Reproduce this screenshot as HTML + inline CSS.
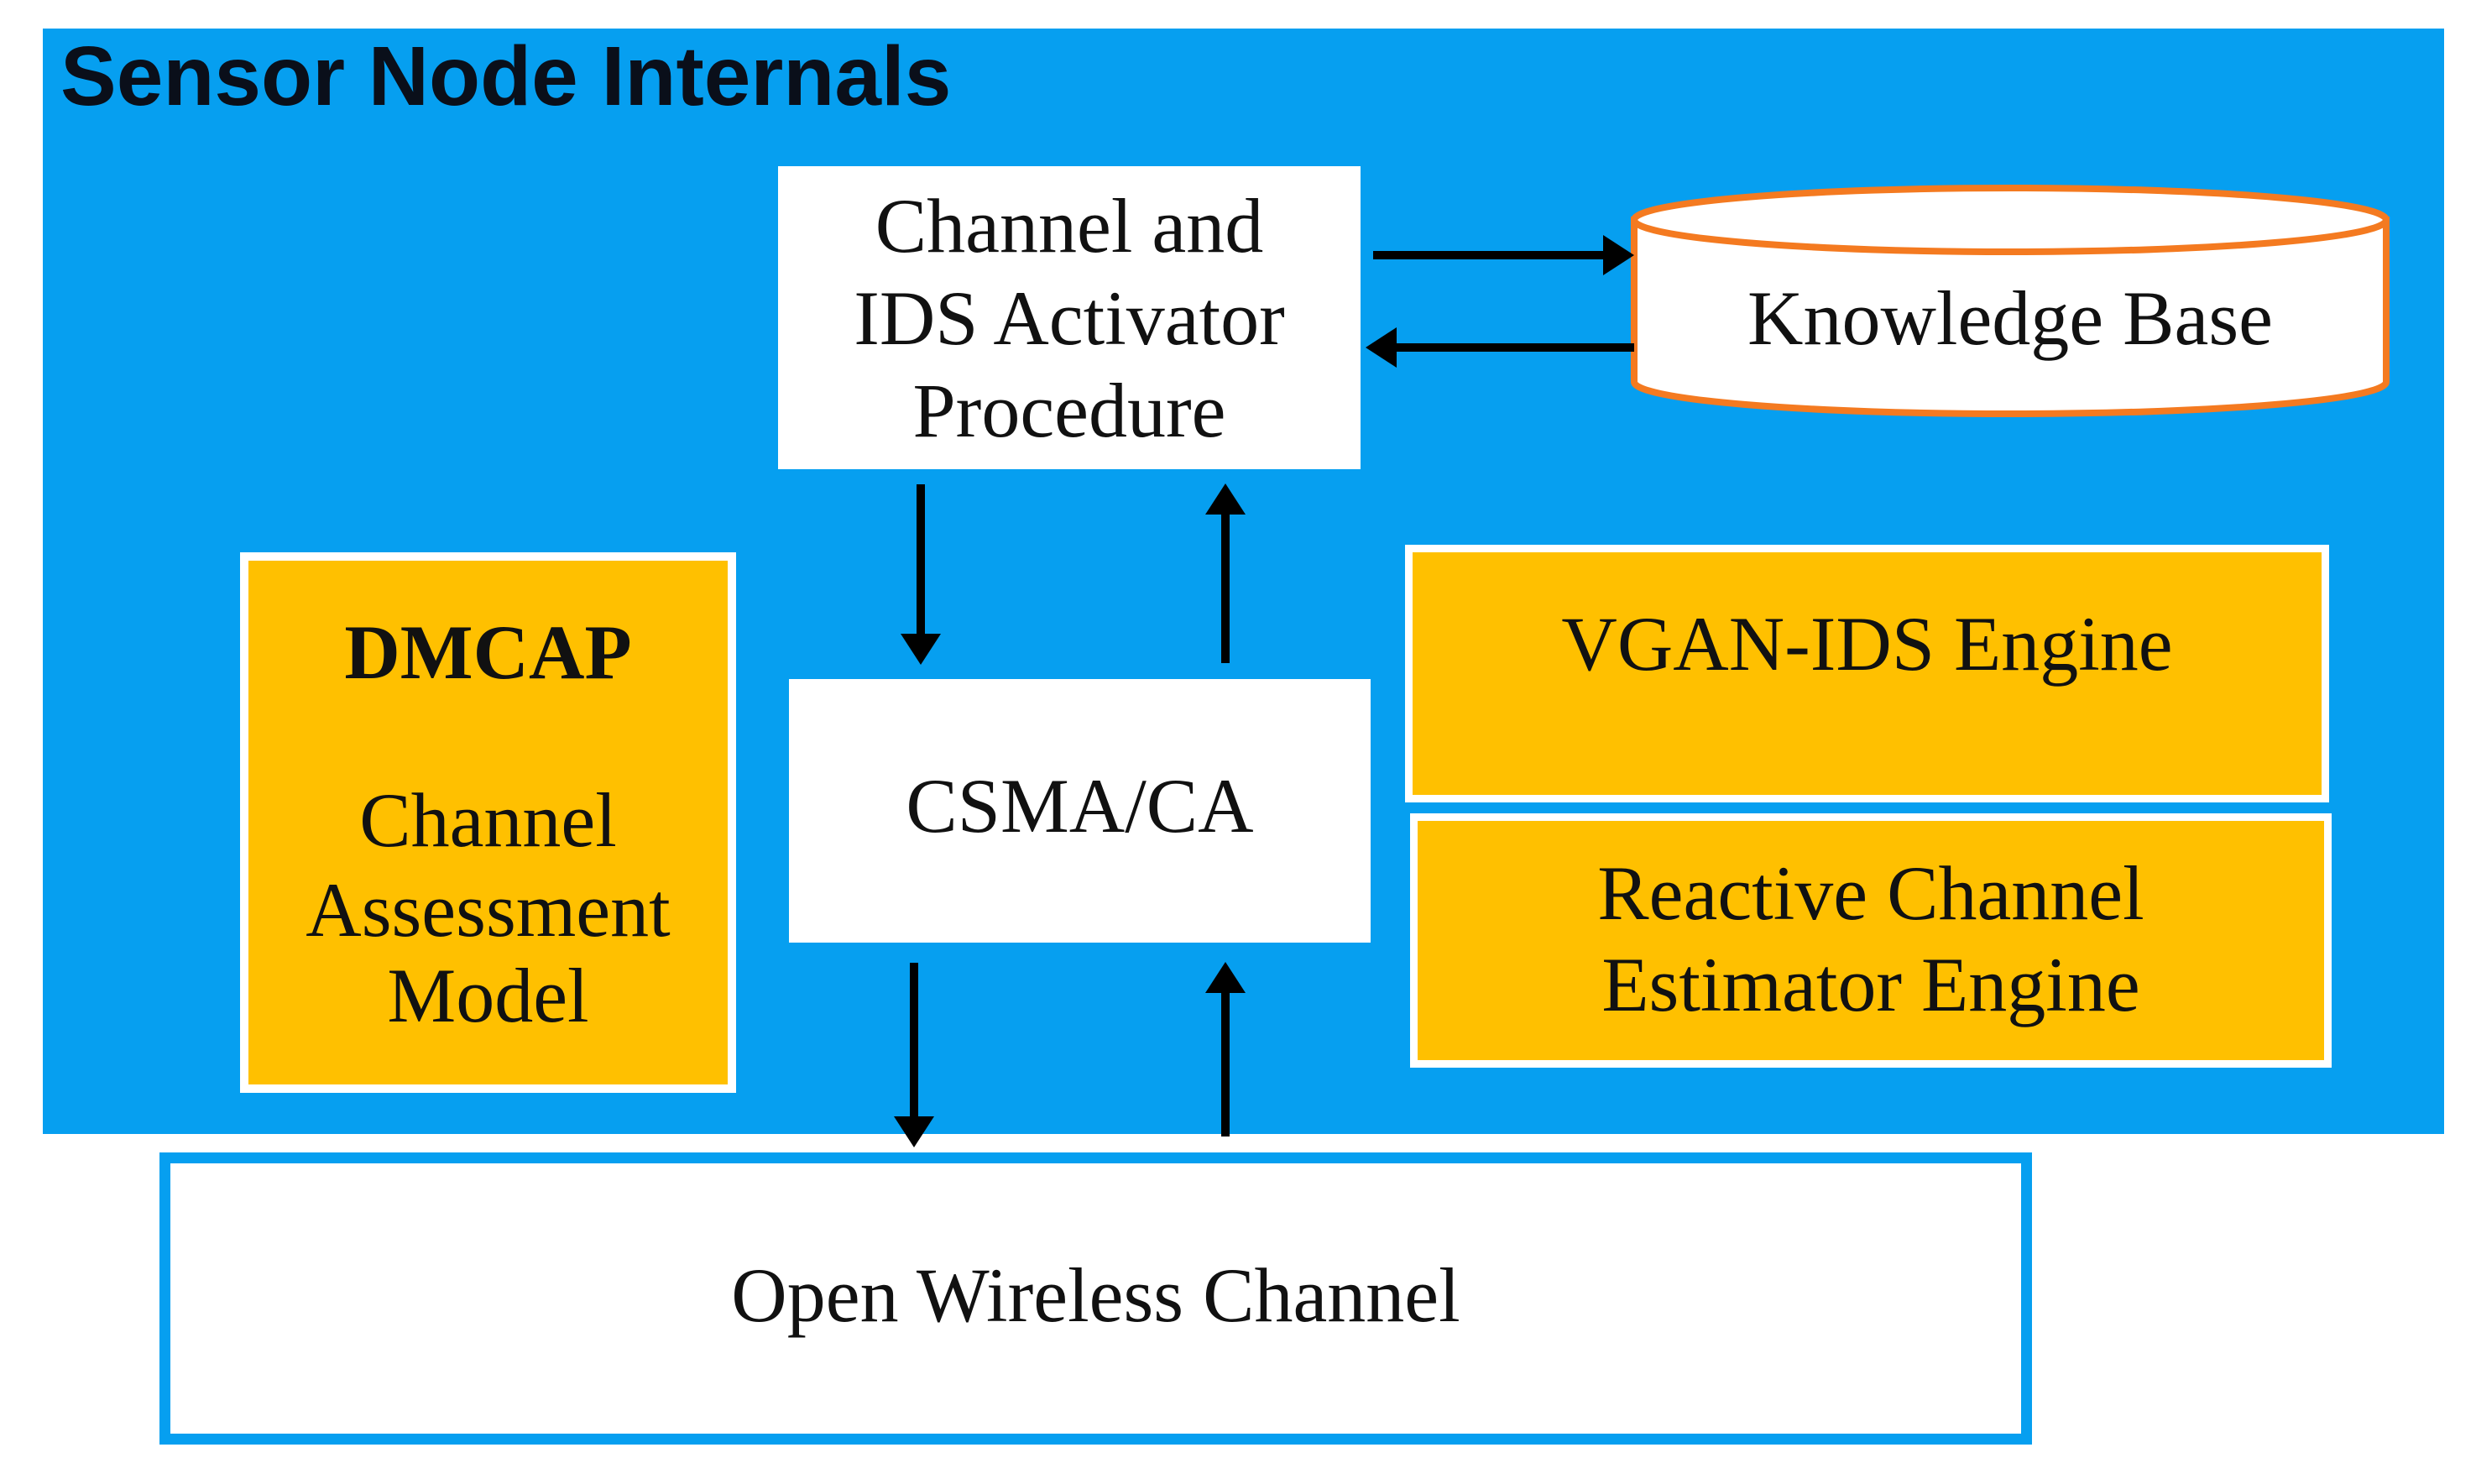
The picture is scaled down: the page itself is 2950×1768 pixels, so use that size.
<!DOCTYPE html>
<html><head><meta charset="utf-8"><style>
html,body{margin:0;padding:0;background:#fff;}
body{width:2950px;height:1768px;position:relative;overflow:hidden;font-family:"Liberation Serif",serif;}
.a{position:absolute;box-sizing:border-box;}
.t{position:absolute;left:-40px;right:-40px;text-align:center;font-size:92px;color:#111;line-height:1;white-space:nowrap;}
</style></head><body>
<div class="a" style="left:51px;top:34px;width:2861px;height:1317px;background:#069ff0;"></div>
<div class="a" style="left:72px;top:34px;font-family:'Liberation Sans',sans-serif;font-weight:bold;font-size:100px;color:#0a0f1a;">Sensor Node Internals</div>

<div class="a" style="left:927px;top:198px;width:694px;height:361px;background:#fff;">
 <div class="t" style="top:25px;">Channel and</div>
 <div class="t" style="top:135px;">IDS Activator</div>
 <div class="t" style="top:245px;">Procedure</div>
</div>

<div class="a" style="left:940px;top:809px;width:693px;height:314px;background:#fff;">
 <div class="t" style="top:105px;">CSMA/CA</div>
</div>

<div class="a" style="left:286px;top:658px;width:591px;height:644px;background:#ffc000;border:10px solid #fff;">
 <div class="t" style="top:63px;font-weight:bold;">DMCAP</div>
 <div class="t" style="top:263px;">Channel</div>
 <div class="t" style="top:370px;">Assessment</div>
 <div class="t" style="top:472px;">Model</div>
</div>

<div class="a" style="left:1674px;top:649px;width:1101px;height:307px;background:#ffc000;border:9px solid #fff;">
 <div class="t" style="top:63px;">VGAN-IDS Engine</div>
</div>
<div class="a" style="left:1680px;top:969px;width:1098px;height:303px;background:#ffc000;border:9px solid #fff;">
 <div class="t" style="top:40px;">Reactive Channel</div>
 <div class="t" style="top:149px;">Estimator Engine</div>
</div>

<div class="a" style="left:190px;top:1373px;width:2231px;height:348px;background:#fff;border:13px solid #069ff0;">
 <div class="t" style="top:111px;">Open Wireless Channel</div>
</div>

<svg class="a" style="left:0;top:0" width="2950" height="1768">
 <path d="M1947,262 L1947,455 A448,38 0 0 0 2843,455 L2843,262 Z" fill="#fff" stroke="#f47a20" stroke-width="8"/>
 <ellipse cx="2395" cy="262" rx="448" ry="38" fill="#fff" stroke="#f47a20" stroke-width="8"/>
 <g stroke="#000" stroke-width="10" fill="none">
  <line x1="1636" y1="304" x2="1915" y2="304"/>
  <line x1="1947" y1="414" x2="1660" y2="414"/>
  <line x1="1097" y1="577" x2="1097" y2="760"/>
  <line x1="1460" y1="790" x2="1460" y2="608"/>
  <line x1="1089" y1="1147" x2="1089" y2="1335"/>
  <line x1="1460" y1="1354" x2="1460" y2="1178"/>
 </g>
 <g fill="#000">
  <polygon points="1947,304 1910,280 1910,328"/>
  <polygon points="1627,414 1664,390 1664,438"/>
  <polygon points="1097,792 1073,755 1121,755"/>
  <polygon points="1460,576 1436,613 1484,613"/>
  <polygon points="1089,1367 1065,1330 1113,1330"/>
  <polygon points="1460,1146 1436,1183 1484,1183"/>
 </g>
 <text x="2395" y="410" text-anchor="middle" font-family="Liberation Serif, serif" font-size="92" fill="#111">Knowledge Base</text>
</svg>
</body></html>
